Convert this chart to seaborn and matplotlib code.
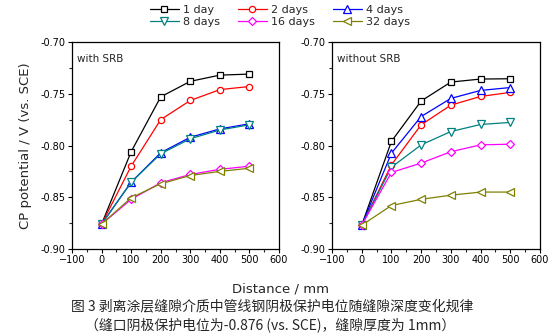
import matplotlib
matplotlib.use("Agg")
import matplotlib.pyplot as plt
import seaborn as sns
import pandas as pd
from matplotlib.ticker import MultipleLocator, FormatStrFormatter

sns.set_theme(style="white")
plt.rcParams['font.family'] = ['DejaVu Sans', 'Noto Sans CJK SC']

distance = [0, 100, 200, 300, 400, 500]
series_labels = ["1 day", "2 days", "4 days", "8 days", "16 days", "32 days"]

with_srb = {
    "1 day":   [-0.876, -0.806, -0.753, -0.738, -0.732, -0.731],
    "2 days":  [-0.876, -0.820, -0.775, -0.7565, -0.746, -0.743],
    "4 days":  [-0.876, -0.8355, -0.807, -0.792, -0.784, -0.779],
    "8 days":  [-0.876, -0.8355, -0.808, -0.7935, -0.785, -0.780],
    "16 days": [-0.876, -0.852, -0.836, -0.828, -0.823, -0.820],
    "32 days": [-0.876, -0.8505, -0.837, -0.829, -0.825, -0.822],
}
without_srb = {
    "1 day":   [-0.877, -0.796, -0.757, -0.7387, -0.7358, -0.7355],
    "2 days":  [-0.877, -0.8187, -0.780, -0.761, -0.7526, -0.7487],
    "4 days":  [-0.877, -0.8074, -0.772, -0.7545, -0.7468, -0.744],
    "8 days":  [-0.877, -0.821, -0.7994, -0.7865, -0.7797, -0.7777],
    "16 days": [-0.877, -0.826, -0.817, -0.806, -0.7994, -0.7987],
    "32 days": [-0.877, -0.858, -0.852, -0.848, -0.845, -0.845],
}
colors = ["#000000", "#ff0000", "#0000ff", "#008080", "#ff00ff", "#808000"]
markers = ["s", "o", "^", "v", "D", "<"]
msizes = [4, 4.5, 5.5, 5.5, 4.5, 5.5]

panel_titles = ["with SRB", "without SRB"]
xlabel = "Distance / mm"
ylabel = "CP potential / V (vs. SCE)"
caption1 = "图 3 剥离涂层缝隙介质中管线钢阴极保护电位随缝隙深度变化规律"
caption2 = "（缝口阴极保护电位为-0.876 (vs. SCE)，缝隙厚度为 1mm）"

fig = plt.figure(figsize=(5.59, 3.35), dpi=100)
ax1 = fig.add_axes([72/559, 1-249/335, 207/559, 207/335])
ax2 = fig.add_axes([332/559, 1-249/335, 208/559, 207/335])

for ax, data, title in [(ax1, with_srb, panel_titles[0]), (ax2, without_srb, panel_titles[1])]:
    for lab, c, m, ms in zip(series_labels, colors, markers, msizes):
        df = pd.DataFrame({"distance": distance, "potential": data[lab]})
        sns.lineplot(data=df, x="distance", y="potential", ax=ax, color=c,
                     marker=m, markersize=ms, markerfacecolor="white",
                     markeredgecolor=c, markeredgewidth=0.9, linewidth=0.9,
                     label=lab, legend=False)
    ax.set_xlim(-100, 600)
    ax.set_ylim(-0.90, -0.70)
    ax.xaxis.set_major_locator(MultipleLocator(100))
    ax.xaxis.set_minor_locator(MultipleLocator(50))
    ax.yaxis.set_major_locator(MultipleLocator(0.05))
    ax.yaxis.set_minor_locator(MultipleLocator(0.025))
    ax.yaxis.set_major_formatter(FormatStrFormatter("%.2f"))
    ax.tick_params(axis="both", which="major", direction="out", length=3, width=0.8,
                   labelsize=7, pad=1.5, bottom=True, left=True, top=False, right=False, colors="black")
    ax.tick_params(axis="both", which="minor", direction="out", length=2, width=0.8,
                   bottom=True, left=True, top=False, right=False)
    for sp in ax.spines.values():
        sp.set_visible(True)
        sp.set_color("black")
        sp.set_linewidth(0.9)
    ax.set_xlabel("")
    ax.set_ylabel("")
    ax.text(0.025, 0.92, title, transform=ax.transAxes, fontsize=7.5, ha="left", va="center")
    ax.set_facecolor("white")

ax1.set_ylabel(ylabel, fontsize=9.5, labelpad=6)
fig.text(280/559, 1-289/335, xlabel, ha="center", va="center", fontsize=9.5)

handles, labels = ax1.get_legend_handles_labels()
order = [0, 3, 1, 4, 2, 5]
fig.legend([handles[i] for i in order], [labels[i] for i in order],
           loc="center", bbox_to_anchor=(280/559, 1-16/335), ncol=3, frameon=False,
           fontsize=8, handlelength=2.6, columnspacing=1.6, labelspacing=0.15,
           handletextpad=0.4, borderpad=0, numpoints=1)

fig.text(272/559, 1-306/335, caption1, ha="center", va="center", fontsize=10,
         family=['Noto Sans CJK SC', 'DejaVu Sans'])
fig.text(270/559, 1-325/335, caption2, ha="center", va="center", fontsize=10,
         family=['Noto Sans CJK SC', 'DejaVu Sans'])

fig.patch.set_facecolor("white")
fig.savefig("out.png", dpi=100, facecolor="white")
